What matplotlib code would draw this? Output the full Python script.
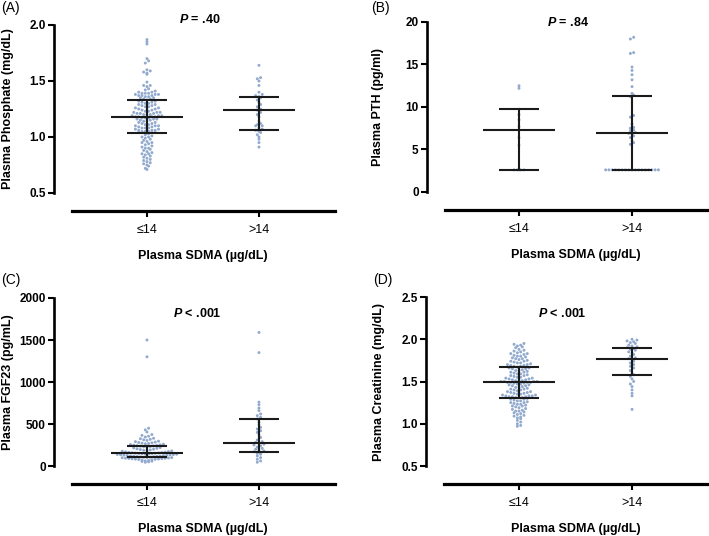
import numpy as np
import matplotlib
matplotlib.use("Agg")
import matplotlib.pyplot as plt
from matplotlib.transforms import blended_transform_factory

plt.rcParams['font.family'] = ['Liberation Sans', 'DejaVu Sans']
plt.rcParams['mathtext.fontset'] = 'custom'
plt.rcParams['mathtext.bfit'] = 'Liberation Sans:italic:bold'
plt.rcParams['mathtext.rm'] = 'Liberation Sans:bold'

groups = ["≤14", ">14"]
xlabel = "Plasma SDMA (µg/dL)"

# Panel A: phosphate
phos_low = [1.87, 1.85, 1.83, 1.70, 1.68, 1.66, 1.60, 1.59, 1.58, 1.57, 1.56, 1.49, 1.46, 1.46, 1.45, 1.43, 1.42,
            1.41, 1.40, 1.40, 1.39, 1.39, 1.39, 1.38, 1.38, 1.38, 1.37, 1.37, 1.37, 1.36, 1.36, 1.35, 1.35,
            1.34, 1.34, 1.33,
            1.32, 1.32, 1.31, 1.31, 1.30, 1.30, 1.29, 1.29, 1.28, 1.28, 1.27, 1.27, 1.26, 1.26, 1.25, 1.25,
            1.24, 1.24, 1.23, 1.23, 1.22, 1.22, 1.22, 1.21, 1.21, 1.21, 1.20, 1.20, 1.20, 1.19, 1.19, 1.19,
            1.18, 1.18, 1.18, 1.18,
            1.17, 1.17, 1.17, 1.16, 1.16, 1.16, 1.15, 1.15, 1.14, 1.14, 1.13, 1.13, 1.12, 1.12, 1.11, 1.11,
            1.10, 1.10, 1.10, 1.09, 1.09, 1.08, 1.08, 1.08, 1.07, 1.07, 1.06, 1.06, 1.06, 1.05, 1.05, 1.05,
            1.04, 1.04, 1.04, 1.04,
            1.03, 1.02, 1.01, 1.00, 1.00, 0.99, 0.98, 0.97, 0.96, 0.95, 0.95, 0.94, 0.93, 0.92, 0.91, 0.90,
            0.90, 0.89, 0.88, 0.87, 0.86, 0.85, 0.85, 0.84, 0.83, 0.82, 0.81, 0.80, 0.79, 0.78, 0.77, 0.76,
            0.75, 0.74, 0.72, 0.71]
phos_high = [1.64, 1.53, 1.52, 1.50, 1.46, 1.40, 1.38, 1.37, 1.36, 1.35, 1.33, 1.31, 1.29, 1.27, 1.25,
             1.24, 1.22, 1.20, 1.18, 1.14, 1.12, 1.11, 1.10, 1.10, 1.08, 1.07, 1.06, 1.05, 1.04, 1.02,
             1.00, 0.98, 0.95, 0.91]
phos_median = [1.18, 1.24]
phos_q1 = [1.04, 1.06]
phos_q3 = [1.33, 1.36]

# Panel B: PTH
pth_low = [12.5, 12.2, 9.1, 8.5, 7.7, 7.3, 6.4, 5.5, 2.6, 2.6, 2.6, 2.6]
pth_high = [18.2, 18.0, 16.4, 16.3, 14.7, 14.3, 13.8, 13.2, 12.4, 11.6, 11.4, 11.2, 9.0, 8.8, 8.0,
            7.6, 7.5, 7.3, 7.2, 7.0, 6.9, 6.8, 6.6, 6.4, 6.0, 5.8, 5.6,
            2.6, 2.6, 2.6, 2.6, 2.6, 2.6, 2.6, 2.6, 2.6, 2.6, 2.6, 2.6, 2.6, 2.6, 2.6, 2.6, 2.6]
pth_median = [7.3, 6.9]
pth_q1 = [2.6, 2.6]
pth_q3 = [9.8, 11.25]

# Panel C: FGF23
fgf_low = [1500, 1300, 450, 430, 405, 375, 365, 355, 345, 330, 325, 318, 312, 305,
           295, 290, 285, 280, 276, 272, 268, 265,
           260, 256, 252, 248, 245, 242, 239, 236, 233, 230,
           225, 220, 215, 210, 205, 200, 196, 192, 188, 184, 180, 176, 172,
           168, 165, 162, 160, 158, 156, 154, 152, 150, 148, 146, 144, 142, 140, 138, 136, 134, 132, 130,
           128, 126, 124,
           120, 118, 116, 114, 112, 110, 108, 106, 104, 102, 100, 98, 96, 94, 92, 90, 88, 86, 84, 82, 80, 78,
           74, 70, 66, 62, 58, 55, 50, 45]
fgf_high = [1590, 1350, 760, 730, 690, 660, 620, 600, 580, 560, 520, 490, 460, 440, 420, 400, 370,
            340, 310, 290, 280, 270, 260, 250, 240, 225, 210, 200, 190, 180, 170, 160, 150, 140, 120,
            100, 80, 60, 45]
fgf_median = [150, 270]
fgf_q1 = [110, 170]
fgf_q3 = [235, 560]

# Panel D: creatinine
crea_low = [1.95, 1.94, 1.93, 1.92, 1.91, 1.90, 1.88, 1.87, 1.86, 1.85, 1.84, 1.83, 1.83, 1.82, 1.81, 1.80,
            1.80, 1.79, 1.78, 1.77, 1.77, 1.76, 1.75, 1.74, 1.74, 1.73, 1.72, 1.72, 1.71, 1.70, 1.70, 1.69,
            1.69, 1.68, 1.68, 1.67,
            1.66, 1.66, 1.65, 1.65, 1.64, 1.63, 1.63, 1.62, 1.61, 1.61, 1.60, 1.59, 1.59, 1.58, 1.57, 1.57,
            1.56, 1.55, 1.55, 1.54, 1.54, 1.53, 1.53, 1.52, 1.52, 1.51, 1.51, 1.51, 1.50, 1.50, 1.50, 1.50,
            1.49, 1.49, 1.49, 1.49,
            1.48, 1.48, 1.47, 1.47, 1.46, 1.46, 1.45, 1.45, 1.44, 1.43, 1.43, 1.42, 1.41, 1.41, 1.40, 1.40,
            1.39, 1.38, 1.38, 1.37, 1.37, 1.36, 1.36, 1.35, 1.35, 1.34, 1.34, 1.33, 1.33, 1.33, 1.32, 1.32,
            1.32, 1.31, 1.31, 1.31,
            1.30, 1.29, 1.29, 1.28, 1.27, 1.27, 1.26, 1.25, 1.25, 1.24, 1.23, 1.23, 1.22, 1.21, 1.21, 1.20,
            1.19, 1.18, 1.17, 1.16, 1.15, 1.15, 1.14, 1.13, 1.12, 1.11, 1.10, 1.09, 1.08, 1.07, 1.06, 1.04,
            1.02, 1.00, 0.98, 0.97]
crea_high = [2.00, 1.99, 1.98, 1.97, 1.96, 1.95, 1.93, 1.92, 1.91, 1.90, 1.89, 1.88, 1.87, 1.85, 1.84,
             1.82, 1.80, 1.78, 1.77, 1.76, 1.74, 1.72, 1.70, 1.68, 1.66, 1.63, 1.60, 1.58, 1.56, 1.53,
             1.50, 1.47, 1.44, 1.40, 1.36, 1.33, 1.17]
crea_median = [1.49, 1.77]
crea_q1 = [1.31, 1.58]
crea_q3 = [1.67, 1.90]

W, H = 709, 536
fig = plt.figure(figsize=(W / 100, H / 100), dpi=100)

DOT = '#92aacd'
LINE = '#1a1a1a'


def binned_offsets(vals, sx, sy, row_h=3.4, dx=3.3):
    """GraphPad-style scatter: points sharing a row (in pixels) are spread side by side"""
    vals = np.asarray(vals, float)
    rows = np.round(vals * sy / row_h).astype(int)
    offs = np.zeros(len(vals))
    for r in np.unique(rows):
        idx = np.where(rows == r)[0]
        idx = idx[np.argsort(vals[idx])]
        n = len(idx)
        pos = (np.arange(n) - (n - 1) / 2.0) * dx
        order = np.argsort(np.abs(pos), kind='stable')
        for k, i in enumerate(idx):
            offs[i] = pos[order[k]] / sx
    return offs


def panel(left, right, top, bottom, ylim, yticks, yticklabels, spine_lo, spine_hi,
          data, med, q1, q3, ylabel, ptext, px, py, xl, yl_off):
    ax = fig.add_axes([left / W, 1 - bottom / H, (right - left) / W, (bottom - top) / H])
    ax.set_ylim(*ylim)
    ax.set_xlim(*xl)
    sx = (right - left) / (xl[1] - xl[0])
    sy = (bottom - top) / (ylim[1] - ylim[0])
    for gi, vals in enumerate(data):
        offs = binned_offsets(vals, sx, sy)
        ax.scatter(gi + offs, vals, s=4.5, color=DOT, edgecolors='none', zorder=2, clip_on=False)
        ax.plot([gi - 0.32, gi + 0.32], [med[gi], med[gi]], color=LINE, lw=1.5, zorder=3, solid_capstyle='butt')
        ax.plot([gi - 0.18, gi + 0.18], [q1[gi], q1[gi]], color=LINE, lw=1.5, zorder=3, solid_capstyle='butt')
        ax.plot([gi - 0.18, gi + 0.18], [q3[gi], q3[gi]], color=LINE, lw=1.5, zorder=3, solid_capstyle='butt')
        ax.plot([gi, gi], [q1[gi], q3[gi]], color=LINE, lw=1.5, zorder=3)
    for s in ['top', 'right']:
        ax.spines[s].set_visible(False)
    ax.spines['left'].set_bounds(spine_lo, spine_hi)
    ax.spines['left'].set_linewidth(1.9)
    ax.spines['bottom'].set_bounds(xl[0] + 18 / sx, xl[1])
    ax.spines['bottom'].set_linewidth(2.3)
    ax.set_yticks(yticks)
    ax.set_yticklabels(yticklabels, fontsize=8.5, fontweight='bold')
    ax.set_xticks([0, 1])
    ax.set_xticklabels(groups, fontsize=9)
    ax.tick_params(axis='y', length=4.5, width=1.5, pad=1.5)
    ax.tick_params(axis='x', length=4.5, width=1.5, pad=5)
    ax.patch.set_visible(False)
    trx = blended_transform_factory(ax.transData, ax.transAxes)
    ax.annotate(xlabel, xy=(0.5, 0), xycoords=trx, xytext=(0, -45 * 0.72), textcoords='offset points',
                ha='center', va='center', fontsize=9, fontweight='bold')
    try_ = blended_transform_factory(ax.transAxes, ax.transData)
    ax.annotate(ylabel, xy=(0, (spine_lo + spine_hi) / 2), xycoords=try_,
                xytext=(-yl_off * 0.72, 0), textcoords='offset points',
                ha='center', va='center', rotation=90, fontsize=9, fontweight='bold')
    ax.text(px, py, ptext, ha='center', va='center', fontsize=9, fontweight='bold', clip_on=False)
    return ax


panel(54, 335, 25, 211, (0.339, 2.0), [0.5, 1.0, 1.5, 2.0], ['0.5', '1.0', '1.5', '2.0'], 0.5, 2.0,
      [phos_low, phos_high], phos_median, phos_q1, phos_q3, 'Plasma Phosphate (mg/dL)',
      r'$\mathbfit{P}$ = .40', 0.47, 2.045, (-0.830, 1.679), 46)
panel(427, 709, 22, 210, (-2.12, 20), [0, 5, 10, 15, 20], ['0', '5', '10', '15', '20'], 0, 20,
      [pth_low, pth_high], pth_median, pth_q1, pth_q3, 'Plasma PTH (pg/ml)',
      r'$\mathbfit{P}$ = .84', 0.43, 20.0, (-0.814, 1.681), 49)
panel(54, 335, 298, 484, (-214, 2000), [0, 500, 1000, 1500, 2000], ['0', '500', '1000', '1500', '2000'], 0, 2000,
      [fgf_low, fgf_high], fgf_median, fgf_q1, fgf_q3, 'Plasma FGF23 (pg/mL)',
      r'$\mathbfit{P}$ < .001', 0.45, 1821, (-0.830, 1.679), 46)
panel(426, 709, 297, 484, (0.287, 2.5), [0.5, 1.0, 1.5, 2.0, 2.5], ['0.5', '1.0', '1.5', '2.0', '2.5'], 0.5, 2.5,
      [crea_low, crea_high], crea_median, crea_q1, crea_q3, 'Plasma Creatinine (mg/dL)',
      r'$\mathbfit{P}$ < .001', 0.38, 2.31, (-0.823, 1.681), 47)

for lab, x, y in [('(A)', 1, 8), ('(B)', 371, 8), ('(C)', 1, 280), ('(D)', 373, 280)]:
    fig.text(x / W, 1 - y / H, lab, ha='left', va='center', fontsize=10)

fig.savefig('out.png', dpi=100)
